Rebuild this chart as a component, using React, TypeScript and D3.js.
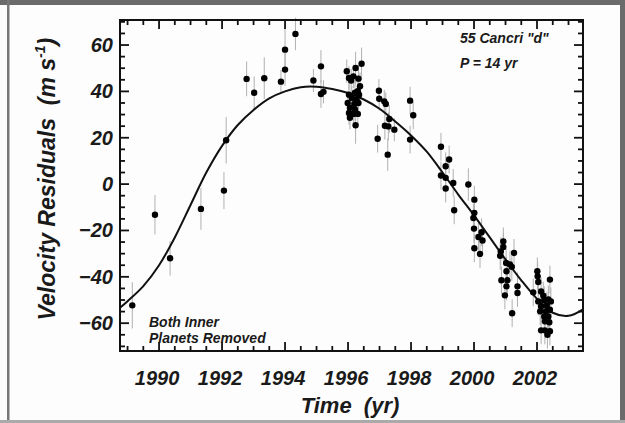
import React from "react";
import * as d3 from "d3";

const obsYears = [
  1989.15, 1989.87, 1990.35, 1991.33, 1992.06, 1992.13, 1992.78, 1993.02, 1993.34, 1993.87, 1994.0, 1994.0, 1994.33,
  1994.9, 1995.14, 1995.14, 1995.22,
  1995.96, 1996.24, 1996.43, 1996.03, 1996.17, 1996.33, 1996.1, 1996.38, 1996.31, 1996.22, 1996.03, 1996.35, 1996.12,
  1996.27, 1995.99, 1996.2, 1996.33, 1996.06, 1996.22, 1996.03, 1996.17, 1996.31, 1996.06, 1996.24,
  1996.98, 1996.99, 1997.15, 1997.2, 1997.31, 1997.17, 1997.28, 1997.47, 1996.94, 1997.26, 1997.97, 1998.07, 1997.97,
  1998.95, 1999.21, 1999.1, 1998.95, 1999.1, 1999.34, 1999.1, 1999.37,
  1999.82, 2000.01, 2000.01, 1999.98, 2000.0, 2000.24, 2000.14, 2000.27, 2000.01, 2000.19,
  2000.93, 2000.93, 2000.85, 2000.83, 2001.27, 2001.02, 2001.14, 2001.2, 2001.03, 2000.87, 2001.06, 2001.03, 2001.38,
  2000.98, 2001.38, 2001.21,
  2002.01, 2002.02, 2002.04, 2002.41, 2001.88, 2002.13, 2002.2, 2002.04, 2002.23, 2002.36, 2002.44, 2002.13, 2002.31,
  2002.1, 2002.28, 2002.41, 2002.23, 2002.36, 2002.25, 2002.39, 2002.13, 2002.25, 2002.33, 2002.41,
];
const obsValues = [
  -52.3, -13.2, -32.0, -10.7, -2.8, 18.9, 45.4, 39.4, 45.7, 44.2, 49.4, 58.0, 64.8,
  44.7, 50.8, 38.9, 39.8,
  48.7, 50.1, 51.9, 45.8, 46.5, 45.5, 44.7, 42.2, 40.1, 39.4, 38.6, 38.6, 37.2,
  36.5, 35.0, 34.6, 35.0, 32.9, 32.2, 30.7, 30.3, 30.3, 28.6, 25.4,
  40.3, 36.8, 35.7, 34.6, 28.1, 25.2, 24.9, 23.5, 19.6, 12.7, 36.0, 29.7, 19.2,
  16.1, 10.6, 7.7, 3.7, 2.7, 0.5, -1.9, -11.3,
  -0.2, -6.7, -12.4, -14.6, -19.2, -20.8, -22.8, -24.3, -27.7, -30.1,
  -24.7, -27.1, -29.0, -30.9, -29.7, -34.0, -34.7, -35.7, -37.6, -41.5, -41.5, -44.1, -44.1,
  -48.0, -47.0, -55.7,
  -37.6, -39.8, -42.2, -41.2, -46.7, -46.3, -48.1, -50.6, -50.1, -49.8, -50.6, -52.7, -52.4,
  -54.9, -54.9, -54.2, -57.1, -57.1, -59.2, -59.6, -63.1, -63.1, -65.0, -63.5,
];
const obsErrors = [
  10, 8.5, 7.5, 9, 8, 10, 7.5, 7, 9, 5, 7, 10, 7,
  5, 7, 6, 5,
  5, 7, 7, 5, 5, 6, 5, 6, 5, 5, 5, 5, 5,
  5, 5, 5, 5, 5, 5, 5, 5, 5, 5, 8,
  5, 5, 5, 5, 6, 6, 6, 5, 6, 7, 6, 6, 6,
  6, 6, 6, 6, 6, 6, 6, 6,
  7, 6, 6, 6, 6, 6, 6, 6, 6, 6,
  6, 6, 6, 6, 6, 6, 6, 6, 6, 6, 6, 6, 6,
  6, 6, 6,
  6, 6, 6, 6, 6, 6, 6, 6, 6, 6, 6, 6, 6,
  6, 6, 6, 6, 6, 6, 6, 6, 6, 6, 6,
];

const fitYears = [
  1988.76, 1989.0, 1989.5, 1990.0, 1990.5, 1991.0, 1991.5, 1992.0, 1992.5, 1993.0, 1993.5, 1994.0, 1994.5, 1995.0,
  1995.5, 1996.0, 1996.5, 1997.0, 1997.5, 1998.0, 1998.5, 1999.0, 1999.5, 2000.0, 2000.5, 2001.0, 2001.5, 2002.0,
  2002.5, 2003.0, 2003.46,
];
const fitValues = [
  -53.3, -50.5, -44, -35, -23, -9, 5, 16.5, 25.5, 32, 37, 40, 41.8, 42,
  41, 39.3, 36.5, 32.5, 27, 21, 14, 5, -4.5, -13.5, -23, -32.5, -41.5, -49.5,
  -55.5, -56.8, -54,
];

const xTickValues = [1990, 1992, 1994, 1996, 1998, 2000, 2002];
const yTickValues = [-60, -40, -20, 0, 20, 40, 60];

const FONT = "'Liberation Sans', Arial, Helvetica, sans-serif";

export default function App() {
  const W = 625, H = 423;
  const left = 120, right = 583, top = 20, bottom = 351;
  const x = d3.scaleLinear().domain([1988.76, 2003.46]).range([left, right]);
  const y = d3.scaleLinear().domain([-72, 70.8]).range([bottom, top]);

  const line = d3
    .line<number>()
    .x((_, i) => x(fitYears[i]))
    .y((d) => y(d))
    .curve(d3.curveCatmullRom.alpha(0.5));

  const xMinor = d3.range(1989, 2003.5, 0.5).filter((v) => !xTickValues.includes(v));
  const yMinor = d3.range(-70, 71, 5).filter((v) => !yTickValues.includes(v));

  const axisW = 2;
  return (
    <svg
      width={W}
      height={H}
      style={{ position: "absolute", left: 0, top: 0, background: "#fdfdfd" }}
      fontFamily={FONT}
    >
      {/* outer frame */}
      <rect x={0} y={0} width={W} height={5} fill="#6b6b6b" />
      <rect x={7} y={0} width={2.5} height={H} fill="#777" />
      <rect x={620} y={0} width={5} height={H} fill="#6b6b6b" />
      <rect x={0} y={420} width={W} height={3} fill="#aaa" />

      {/* error bars */}
      <g stroke="#b0b0b0" strokeWidth={1}>
        {obsYears.map((yr, i) => (
          <line
            key={"e" + i}
            x1={x(yr)}
            x2={x(yr)}
            y1={y(obsValues[i] - obsErrors[i])}
            y2={y(obsValues[i] + obsErrors[i])}
          />
        ))}
      </g>
      {/* fit curve */}
      <path d={line(fitValues) || ""} fill="none" stroke="#111" strokeWidth={2} />
      {/* points */}
      <g fill="#000">
        {obsYears.map((yr, i) => (
          <circle key={"p" + i} cx={x(yr)} cy={y(obsValues[i])} r={3.2} />
        ))}
      </g>

      {/* axes box */}
      <rect x={left} y={top} width={right - left} height={bottom - top} fill="none" stroke="#111" strokeWidth={axisW} />

      {/* x ticks */}
      <g stroke="#111" strokeWidth={1.8}>
        {xTickValues.map((v) => (
          <g key={"xt" + v}>
            <line x1={x(v)} x2={x(v)} y1={bottom} y2={bottom - 9} />
            <line x1={x(v)} x2={x(v)} y1={top} y2={top + 9} />
          </g>
        ))}
        {xMinor.map((v) => (
          <g key={"xm" + v}>
            <line x1={x(v)} x2={x(v)} y1={bottom} y2={bottom - 5} />
            <line x1={x(v)} x2={x(v)} y1={top} y2={top + 5} />
          </g>
        ))}
        {yTickValues.map((v) => (
          <g key={"yt" + v}>
            <line x1={left} x2={left + 9} y1={y(v)} y2={y(v)} />
            <line x1={right} x2={right - 9} y1={y(v)} y2={y(v)} />
          </g>
        ))}
        {yMinor.map((v) => (
          <g key={"ym" + v}>
            <line x1={left} x2={left + 5} y1={y(v)} y2={y(v)} />
            <line x1={right} x2={right - 5} y1={y(v)} y2={y(v)} />
          </g>
        ))}
      </g>

      {/* tick labels */}
      <g fontSize={20} fontWeight="bold" fontStyle="italic" fill="#1a1a1a">
        {xTickValues.map((v) => (
          <text key={"xl" + v} x={x(v) - 2} y={385} textAnchor="middle">
            {v}
          </text>
        ))}
        {yTickValues.map((v) => (
          <text key={"yl" + v} x={113} y={y(v) + 7} textAnchor="end">
            {v === 0 ? "0" : v < 0 ? "\u2212" + Math.abs(v) : String(v)}
          </text>
        ))}
      </g>

      {/* axis titles */}
      <text
        x={350}
        y={413}
        textAnchor="middle"
        fontSize={22}
        fontWeight="bold"
        fontStyle="italic"
        fill="#1a1a1a"
        style={{ whiteSpace: "pre" }}
      >
        {"Time  (yr)"}
      </text>
      <text
        transform={`translate(55, ${y(0) - 5}) rotate(-90)`}
        textAnchor="middle"
        fontSize={23}
        fontWeight="bold"
        fontStyle="italic"
        fill="#1a1a1a"
        style={{ whiteSpace: "pre" }}
      >
        {"Velocity Residuals  (m s"}
        <tspan fontSize={14} dy={-10}>
          {"-1"}
        </tspan>
        <tspan dy={10}>{")"}</tspan>
      </text>

      {/* annotations */}
      <g fontSize={14} fontWeight="bold" fontStyle="italic" fill="#1a1a1a">
        <text x={460} y={43}>{"55 Cancri \"d\""}</text>
        <text x={460} y={68}>{"P = 14 yr"}</text>
        <text x={149} y={327}>Both Inner</text>
        <text x={149} y={343}>Planets Removed</text>
      </g>
    </svg>
  );
}
